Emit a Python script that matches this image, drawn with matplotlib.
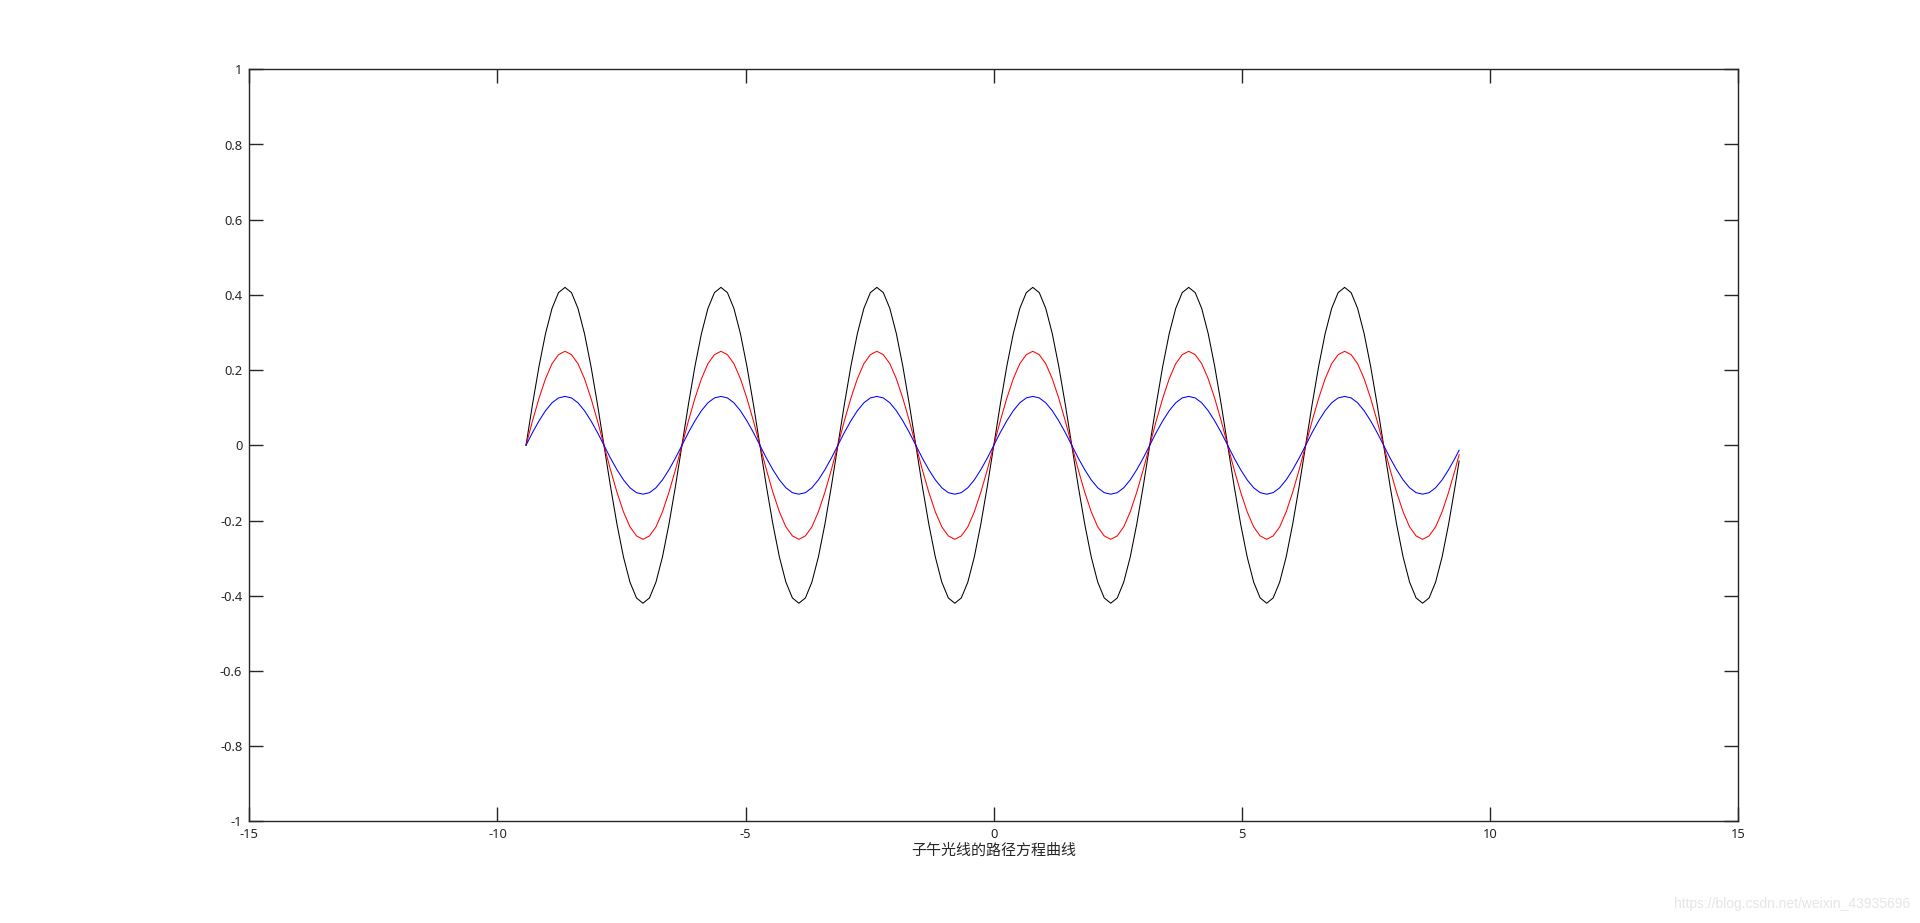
import numpy as np
import matplotlib.pyplot as plt

# one period of each curve, read every 1/24 period (x from -3*pi, period pi)
black_period = [0.0, 0.109, 0.21, 0.297, 0.364, 0.406, 0.42, 0.406, 0.364, 0.297, 0.21, 0.109,
                0.0, -0.109, -0.21, -0.297, -0.364, -0.406, -0.42, -0.406, -0.364, -0.297, -0.21, -0.109]
red_period = [0.0, 0.065, 0.125, 0.177, 0.217, 0.241, 0.25, 0.241, 0.217, 0.177, 0.125, 0.065,
              0.0, -0.065, -0.125, -0.177, -0.217, -0.241, -0.25, -0.241, -0.217, -0.177, -0.125, -0.065]
blue_period = [0.0, 0.034, 0.065, 0.092, 0.113, 0.126, 0.13, 0.126, 0.113, 0.092, 0.065, 0.034,
               0.0, -0.034, -0.065, -0.092, -0.113, -0.126, -0.13, -0.126, -0.113, -0.092, -0.065, -0.034]
n_periods = 6
x_start = -3 * np.pi
period = np.pi

# last sample where the curves stop
x_end = 9.375
black_end, red_end, blue_end = -0.042, -0.025, -0.013

x_ticks = [-15, -10, -5, 0, 5, 10, 15]
y_ticks = [-1, -0.8, -0.6, -0.4, -0.2, 0, 0.2, 0.4, 0.6, 0.8, 1]
y_tick_labels = ["-1", "-0.8", "-0.6", "-0.4", "-0.2", "0", "0.2", "0.4", "0.6", "0.8", "1"]
xlabel = "子午光线的路径方程曲线"
watermark = "https://blog.csdn.net/weixin_43935696"

n = len(black_period) * n_periods
x = np.append(x_start + np.arange(n) * period / len(black_period), x_end)
black = np.append(np.tile(black_period, n_periods), black_end)
red = np.append(np.tile(red_period, n_periods), red_end)
blue = np.append(np.tile(blue_period, n_periods), blue_end)

fig = plt.figure(figsize=(19.2, 9.23), dpi=100)
ax = fig.add_axes([249.3 / 1920, 1 - 821.3 / 923, 1489 / 1920, 752 / 923])

ax.plot(x, black, color="black", lw=0.75)
ax.plot(x, red, color="red", lw=0.75)
ax.plot(x, blue, color="blue", lw=0.75)

ax.set_xlim(-15, 15)
ax.set_ylim(-1, 1)
ax.set_xticks(x_ticks)
ax.set_xticklabels([str(t) for t in x_ticks])
ax.set_yticks(y_ticks)
ax.set_yticklabels(y_tick_labels)

ax.tick_params(direction="in", length=10, width=1.0, color="#262626",
               labelcolor="#262626", labelsize=9.3, top=True, right=True, pad=5)
for lab in ax.get_xticklabels() + ax.get_yticklabels():
    lab.set_family(["Noto Sans", "DejaVu Sans"])
for sp in ax.spines.values():
    sp.set_color("#262626")
    sp.set_linewidth(1.0)

ax.set_xlabel(xlabel, fontsize=10.8, color="#262626",
              family=["Noto Sans CJK SC", "DejaVu Sans"], labelpad=2)

fig.text(1910 / 1920, 1 - 904 / 923, watermark, ha="right", va="center",
         fontsize=10, color="#e6e6e6", family=["Liberation Sans", "DejaVu Sans"])

fig.savefig("out.png", dpi=100, facecolor="white")
